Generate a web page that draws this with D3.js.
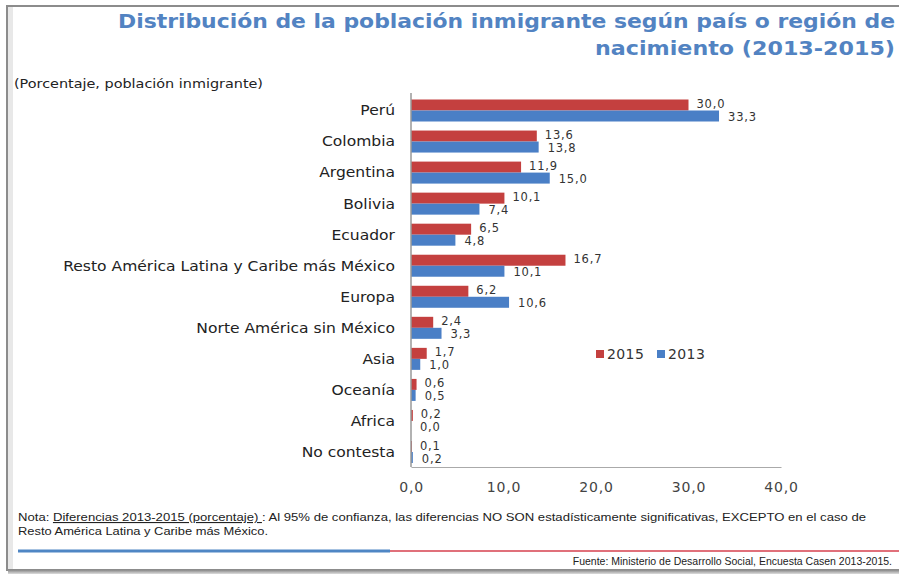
<!DOCTYPE html>
<html><head><meta charset="utf-8">
<script src="https://cdn.jsdelivr.net/npm/d3@7"></script>
<style>body{margin:0;background:#fff}svg{display:block}</style>
</head><body>
<svg id="c" width="899" height="574"></svg>
<script>
const categories = ["Perú","Colombia","Argentina","Bolivia","Ecuador","Resto América Latina y Caribe más México","Europa","Norte América sin México","Asia","Oceanía","Africa","No contesta"];
const values2015 = [30.0,13.6,11.9,10.1,6.5,16.7,6.2,2.4,1.7,0.6,0.2,0.1];
const values2013 = [33.3,13.8,15.0,7.4,4.8,10.1,10.6,3.3,1.0,0.5,0.0,0.2];
const seriesNames = ["2015","2013"];
const tickValues = [0,10,20,30,40];

const RED = "#c4403f", BLUE = "#4a7fc6";
const svg = d3.select("#c");
const font = "DejaVu Sans, Verdana, sans-serif";

// frame
const defs = svg.append("defs");
const g1 = defs.append("linearGradient").attr("id","sh").attr("x1",0).attr("x2",0).attr("y1",0).attr("y2",1);
g1.append("stop").attr("offset",0).attr("stop-color","#888");
g1.append("stop").attr("offset",1).attr("stop-color","#ddd");
svg.append("rect").attr("x",7).attr("y",6).attr("width",900).attr("height",564).attr("fill","#fff").attr("stroke","#8c8c8c").attr("stroke-width",2);
svg.append("rect").attr("x",8).attr("y",7).attr("width",5).attr("height",562).attr("fill","#d8d8d8").attr("opacity",0.6);
svg.append("rect").attr("x",8).attr("y",570).attr("width",900).attr("height",4).attr("fill","url(#sh)");

// title
svg.append("text").attr("x",895).attr("y",28).attr("text-anchor","end")
  .attr("font-family",font).attr("font-weight","bold").attr("font-size",20).attr("fill","#5283c2")
  .attr("textLength",777).attr("lengthAdjust","spacingAndGlyphs")
  .text("Distribución de la población inmigrante según país o región de");
svg.append("text").attr("x",895).attr("y",55).attr("text-anchor","end")
  .attr("font-family",font).attr("font-weight","bold").attr("font-size",20).attr("fill","#5283c2")
  .attr("textLength",300).attr("lengthAdjust","spacingAndGlyphs")
  .text("nacimiento (2013-2015)");
svg.append("text").attr("x",14).attr("y",88).attr("font-family",font).attr("font-size",12).attr("fill","#222")
  .attr("textLength",249).attr("lengthAdjust","spacingAndGlyphs")
  .text("(Porcentaje, población inmigrante)");

// scales
const x = d3.scaleLinear().domain([0,40]).range([411,781]);
const y = d3.scalePoint().domain(categories).range([110.5,452]);
const bh = 11;

const rows = categories.map((c,i)=>({c, v15: values2015[i], v13: values2013[i]}));

// bars
svg.append("g").selectAll("rect").data(rows).join("rect")
  .attr("x",x(0)).attr("y",d=>y(d.c)-bh).attr("width",d=>x(d.v15)-x(0)).attr("height",bh).attr("fill",RED);
svg.append("g").selectAll("rect").data(rows).join("rect")
  .attr("x",x(0)).attr("y",d=>y(d.c)).attr("width",d=>x(d.v13)-x(0)).attr("height",bh).attr("fill",BLUE);

const fmt = v => d3.format(".1f")(v).replace(".",",");
// value labels
svg.append("g").selectAll("text").data(rows).join("text")
  .attr("x",d=>x(d.v15)+8).attr("y",d=>y(d.c)-6.5).attr("dy","0.35em")
  .attr("font-family",font).attr("font-size",11.5).attr("letter-spacing",0.8).attr("fill","#333").text(d=>fmt(d.v15));
svg.append("g").selectAll("text").data(rows).join("text")
  .attr("x",d=>x(d.v13)+9).attr("y",d=>y(d.c)+6.5).attr("dy","0.35em")
  .attr("font-family",font).attr("font-size",11.5).attr("letter-spacing",0.8).attr("fill","#333").text(d=>fmt(d.v13));

// category labels
const cl = svg.append("g").selectAll("text").data(categories).join("text")
  .attr("x",395).attr("y",d=>y(d)).attr("dy","0.35em").attr("text-anchor","end")
  .attr("font-family",font).attr("font-size",14).attr("fill","#222").text(d=>d);
cl.each(function(){ const L = this.getComputedTextLength(); d3.select(this).attr("textLength", L*1.11).attr("lengthAdjust","spacingAndGlyphs"); });

// axes
svg.append("line").attr("x1",x(0)).attr("x2",x(0)).attr("y1",93).attr("y2",467).attr("stroke","#999").attr("stroke-width",1.5);
const xa = svg.append("g").attr("transform","translate(0,467)")
  .call(d3.axisBottom(x).tickValues(tickValues).tickSize(0).tickPadding(15).tickFormat(fmt));
xa.select(".domain").attr("stroke","#aaa").attr("stroke-width",1.2);
xa.selectAll("text").attr("font-family",font).attr("font-size",14).attr("fill","#444").attr("letter-spacing","0.8");

// legend
const lg = svg.append("g").attr("transform","translate(596,354)");
seriesNames.forEach((s,i)=>{
  const gx = i*61;
  lg.append("rect").attr("x",gx).attr("y",-4).attr("width",8).attr("height",8).attr("fill",i===0?RED:BLUE);
  lg.append("text").attr("x",gx+11).attr("y",0).attr("dy","0.35em").attr("font-family",font).attr("font-size",14).attr("letter-spacing",0.4).attr("fill","#333").text(s);
});

// note
const nfont = "Liberation Sans Narrow, Liberation Sans, Arial, sans-serif";
const note = svg.append("text").attr("x",18).attr("y",521).attr("font-family",nfont).attr("font-size",11).attr("fill","#222")
  .attr("textLength",848).attr("lengthAdjust","spacingAndGlyphs");
note.append("tspan").text("Nota: ");
note.append("tspan").attr("text-decoration","underline").text("Diferencias 2013-2015 (porcentaje) ");
note.append("tspan").text(": Al 95% de confianza, las diferencias NO SON estadísticamente significativas, EXCEPTO en  el caso de");
svg.append("text").attr("x",18).attr("y",535).attr("font-family",nfont).attr("font-size",11).attr("fill","#222")
  .attr("textLength",250).attr("lengthAdjust","spacingAndGlyphs")
  .text("Resto América Latina y Caribe más México.");

// divider
svg.append("line").attr("x1",18).attr("x2",390).attr("y1",551).attr("y2",551).attr("stroke","#4f86c4").attr("stroke-width",3);
svg.append("line").attr("x1",390).attr("x2",899).attr("y1",551).attr("y2",551).attr("stroke","#e0707a").attr("stroke-width",2);

svg.append("text").attr("x",892).attr("y",565).attr("text-anchor","end").attr("font-family",nfont).attr("font-size",10.5).attr("fill","#222")
  .text("Fuente: Ministerio de Desarrollo Social, Encuesta Casen 2013-2015.");
</script>
</body></html>
